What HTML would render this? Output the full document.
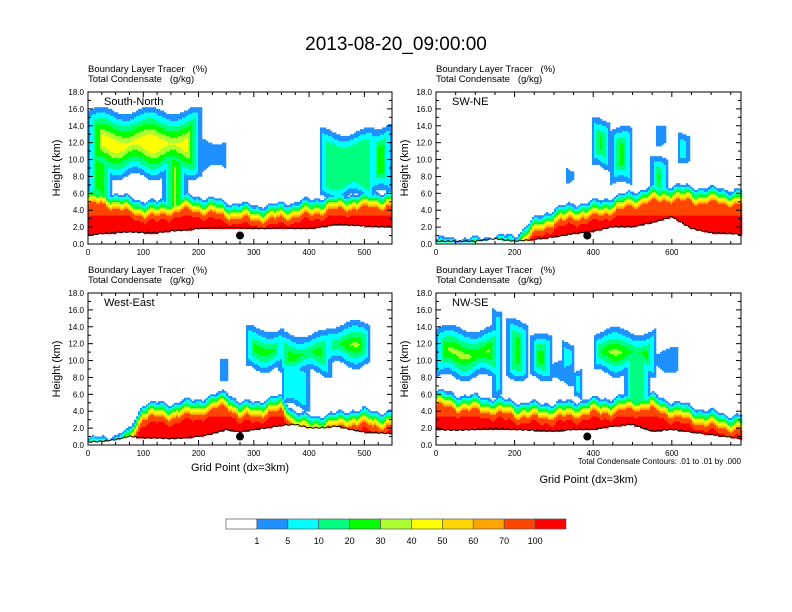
<!DOCTYPE html>
<html><head><meta charset="utf-8"><style>
html,body{margin:0;padding:0;background:#fff;}
svg{display:block;font-family:"Liberation Sans",Arial,sans-serif;}
</style></head><body>
<svg id="chart" width="792" height="612" viewBox="0 0 792 612">
<text x="396" y="50" font-size="19" text-anchor="middle">2013-08-20_09:00:00</text>
<g id="panels"></g>
<g id="cbar"></g>
<text x="741" y="464" font-size="8" text-anchor="end">Total Condensate Contours: .01 to .01 by .000</text>
</svg>
<script>
// colour classes
const colors = ["#FFFFFF","#1E90FF","#00FFFF","#00FF7F","#00FF00","#ADFF2F","#FFFF00","#FFD700","#FFA500","#FF4500","#FF0000"];
const cbLabels = ["1","5","10","20","30","40","50","60","70","100"];
const panelNames = ["South-North","SW-NE","West-East","NW-SE"];

// Panel 1 South-North
const p1X = [0,25,50,75,100,125,150,175,200,225,250,275,300,325,350,375,400,425,450,475,500,525,550];
const p1Terrain = [1.0,1.2,1.3,1.4,1.3,1.3,1.5,1.6,1.8,1.9,1.9,1.9,1.8,1.8,1.9,1.8,1.8,2.0,2.3,2.2,2.1,2.0,2.0];
const p1Pbl = [6.5,6.5,6.0,5.5,5.2,5.0,5.5,5.8,5.6,5.4,5.0,4.8,4.6,4.6,4.8,5.0,5.2,5.6,5.8,6.0,6.0,6.2,6.2];
const p1CloudX0 = [0,0,135,195,420,510];
const p1CloudX1 = [205,45,180,250,520,550];
const p1CloudBase = [8.0,4.5,2.0,9.0,5.5,6.0];
const p1CloudTop = [15.8,12.0,12.0,12.3,13.3,14.0];
const p1CloudPeak = [6,4,8,1,3,5];

// Panel 2 SW-NE
const p2X = [0,50,100,150,200,250,300,350,400,450,500,550,600,650,700,750,776];
const p2Terrain = [0.3,0.3,0.3,0.6,0.3,0.5,0.8,1.2,1.5,2.0,2.0,2.5,3.2,1.8,1.3,1.2,1.1];
const p2Pbl = [0.7,0.7,0.7,1.0,1.0,3.0,4.2,4.8,5.0,5.6,6.2,6.8,7.0,6.8,6.6,6.5,6.4];
const p2CloudX0 = [395,445,545,560,615,330];
const p2CloudX1 = [445,500,590,585,645,350];
const p2CloudBase = [9.0,7.0,5.5,12.0,10.0,7.5];
const p2CloudTop = [14.5,13.5,10.0,14.5,13.2,9.0];
const p2CloudPeak = [5,4,7,1,3,1];

// Panel 3 West-East
const p3X = [0,25,50,75,100,125,150,175,200,225,250,275,300,325,350,375,400,425,450,475,500,525,550];
const p3Terrain = [0.3,0.4,0.6,1.0,0.8,0.8,0.7,0.8,1.0,1.3,1.8,1.5,1.8,2.0,2.3,2.4,2.0,2.0,2.2,1.8,1.5,1.4,1.3];
const p3Pbl = [0.8,0.9,1.2,1.8,5.0,5.0,5.0,5.2,5.5,5.8,6.5,5.0,5.2,5.5,5.8,4.0,3.4,3.6,3.8,4.2,4.2,4.0,4.0];
const p3CloudX0 = [285,345,430,350,238];
const p3CloudX1 = [355,440,512,400,252];
const p3CloudBase = [9.0,8.5,9.5,4.5,8.0];
const p3CloudTop = [13.8,13.2,14.3,9.5,9.8];
const p3CloudPeak = [6,8,5,2,1];

// Panel 4 NW-SE
const p4X = [0,50,100,150,200,250,300,350,400,450,500,550,600,650,700,750,776];
const p4Terrain = [1.8,1.7,1.8,1.9,1.8,1.7,1.6,1.8,1.8,2.2,2.4,1.6,1.8,1.5,1.2,0.9,0.7];
const p4Pbl = [6.5,6.0,5.8,5.6,5.2,5.0,5.0,5.2,5.5,5.6,6.0,6.0,5.2,4.6,4.0,3.6,3.5];
const p4CloudX0 = [0,145,180,240,280,320,350,400,480,555];
const p4CloudX1 = [165,170,235,295,350,352,372,560,545,615];
const p4CloudBase = [8.0,6.0,8.0,8.0,7.5,9.0,5.5,8.5,2.0,9.0];
const p4CloudTop = [13.8,16.2,14.5,12.8,10.0,12.2,8.5,13.5,12.5,11.2];
const p4CloudPeak = [6,2,4,4,1,4,2,6,3,1];

const dotX = [275,385,275,385];

const panels = [
 {l:88,t:92,w:304,h:152,xmax:550,xt:100,x:p1X,ter:p1Terrain,pbl:p1Pbl,c0:p1CloudX0,c1:p1CloudX1,cb:p1CloudBase,ct:p1CloudTop,cp:p1CloudPeak,xlabel:false},
 {l:436,t:92,w:305,h:152,xmax:776,xt:200,x:p2X,ter:p2Terrain,pbl:p2Pbl,c0:p2CloudX0,c1:p2CloudX1,cb:p2CloudBase,ct:p2CloudTop,cp:p2CloudPeak,xlabel:false},
 {l:88,t:293,w:304,h:152,xmax:550,xt:100,x:p3X,ter:p3Terrain,pbl:p3Pbl,c0:p3CloudX0,c1:p3CloudX1,cb:p3CloudBase,ct:p3CloudTop,cp:p3CloudPeak,xlabel:true},
 {l:436,t:293,w:305,h:152,xmax:776,xt:200,x:p4X,ter:p4Terrain,pbl:p4Pbl,c0:p4CloudX0,c1:p4CloudX1,cb:p4CloudBase,ct:p4CloudTop,cp:p4CloudPeak,xlabel:true}
];
const NS="http://www.w3.org/2000/svg";
function mk(tag,attrs,parent){const e=document.createElementNS(NS,tag);for(const k in attrs)e.setAttribute(k,attrs[k]);parent.appendChild(e);return e;}
function interp(xs,ys,x){if(x<=xs[0])return ys[0];for(let i=1;i<xs.length;i++){if(x<=xs[i]){const f=(x-xs[i-1])/(xs[i]-xs[i-1]);return ys[i-1]+f*(ys[i]-ys[i-1]);}}return ys[ys.length-1];}
function pblClass(d,z){if(d<0)return 0;if(d<0.25)return 1;if(d<0.5)return 2;if(d<0.75)return 3;if(d<0.95)return 4;if(d<1.15)return 5;if(d<1.35)return 6;if(d<1.55)return 7;if(d<1.75)return 8;if(d>2.4&&z<3.4)return 10;return 9;}
const root=document.getElementById('panels');
panels.forEach((P,pi)=>{
  const g=mk('g',{},root);
  
  
  const sx=v=>P.l+v/P.xmax*P.w, sy=z=>P.t+P.h-z/18*P.h;
  const field=mk('g',{},g);
  
  
  const cw=2, dz=0.2;
  const pxPerKm=P.h/18;
  for(let px=0;px<P.w;px+=cw){
    const xv=(px+cw/2)/P.w*P.xmax;
    const ter=interp(P.x,P.ter,xv), pb=interp(P.x,P.pbl,xv)+0.25*Math.sin(px*0.21)+0.15*Math.sin(px*0.53);
    let runStart=null,runCls=0;
    const flush=(zEnd)=>{if(runStart!==null&&runCls>0){const r=mk('rect',{x:P.l+px,y:sy(zEnd),width:cw+0.3,height:sy(runStart)-sy(zEnd)+0.3,fill:colors[runCls]},field);
      
      }};
    for(let z=0;z<18;z+=dz){
      const zc=z+dz/2;let cls=0;
      if(zc>=ter){cls=pblClass(pb-zc,zc);
        for(let k=0;k<P.c0.length;k++){
          const wb=0.5*Math.sin(px*0.17+k*1.7), wt=0.5*Math.sin(px*0.13+k*2.3);
          const b=P.cb[k]+wb, t=P.ct[k]+wt;
          if(xv>=P.c0[k]&&xv<=P.c1[k]&&zc>=b&&zc<=t){
            const dxl=(xv-P.c0[k])/P.xmax*P.w, dxr=(P.c1[k]-xv)/P.xmax*P.w;
            const e=Math.min(zc-b,t-zc,Math.min(dxl,dxr)/pxPerKm*2);
            const c=Math.min(P.cp[k],1+Math.floor(e*1.5));if(c>cls)cls=c;}
        }}
      if(cls!==runCls){flush(z);runStart=z;runCls=cls;}
    }
    flush(18);
  }
  // terrain line
  let d='';for(let px=0;px<=P.w;px+=2){const xv=px/P.w*P.xmax;d+=(px?'L':'M')+(P.l+px)+','+(sy(interp(P.x,P.ter,xv))+(px%6===0?-1:0)).toFixed(1);}
  const tl=mk('path',{d:d,fill:'none',stroke:'#000','stroke-width':1},g);
  
  
  const dot=mk('circle',{cx:sx(dotX[pi]),cy:sy(1.0),r:4,fill:'#000'},g);
  
  
  const fr=mk('rect',{x:P.l,y:P.t,width:P.w,height:P.h,fill:'none',stroke:'#000','stroke-width':1},g);
  
  
  for(let z=0;z<=18;z+=1){const y=sy(z),len=z%2===0?5:3;
    mk('line',{x1:P.l,x2:P.l+len,y1:y,y2:y,stroke:'#000'},g);mk('line',{x1:P.l+P.w,x2:P.l+P.w-len,y1:y,y2:y,stroke:'#000'},g);
    if(z%2===0){const t=mk('text',{x:P.l-4,y:y+3,'font-size':8,'text-anchor':'end'},g);t.textContent=z.toFixed(1);
      
      }}
  const minor=P.xt/4;
  for(let v=0;v<=P.xmax;v+=minor){const x=sx(v),maj=(v%P.xt===0),len=maj?5:3;
    mk('line',{x1:x,x2:x,y1:P.t+P.h,y2:P.t+P.h-len,stroke:'#000'},g);mk('line',{x1:x,x2:x,y1:P.t,y2:P.t+len,stroke:'#000'},g);
    if(maj){const t=mk('text',{x:x,y:P.t+P.h+11,'font-size':8,'text-anchor':'middle'},g);t.textContent=v;
      
      }}
  const yt=mk('text',{x:0,y:0,'font-size':11,'text-anchor':'middle',transform:`translate(${P.l-28},${P.t+P.h/2}) rotate(-90)`},g);yt.textContent='Height (km)';
  
  
  const s1=mk('text',{x:P.l,y:P.t-20,'font-size':9.5},g);s1.textContent='Boundary Layer Tracer\u00a0\u00a0\u00a0(%)';
  
  
  const s2=mk('text',{x:P.l,y:P.t-10,'font-size':9.5},g);s2.textContent='Total Condensate\u00a0\u00a0\u00a0(g/kg)';
  
  
  const pl=mk('text',{x:P.l+16,y:P.t+13,'font-size':11},g);pl.textContent=panelNames[pi];
  
  
  if(P.xlabel){const xl=mk('text',{x:P.l+P.w/2,y:pi===2?471:483,'font-size':11,'text-anchor':'middle'},g);xl.textContent='Grid Point (dx=3km)';
    
    }
});
const cb=document.getElementById('cbar');
const cbx=226,cbw=340/11;
colors.forEach((c,i)=>{const r=mk('rect',{x:cbx+i*cbw,y:519,width:cbw,height:10,fill:c,stroke:'#555','stroke-width':0.7},cb);
  
  });
cbLabels.forEach((s,i)=>{const t=mk('text',{x:cbx+(i+1)*cbw,y:544,'font-size':9,'text-anchor':'middle'},cb);t.textContent=s;
  
  });
</script>
</body></html>
